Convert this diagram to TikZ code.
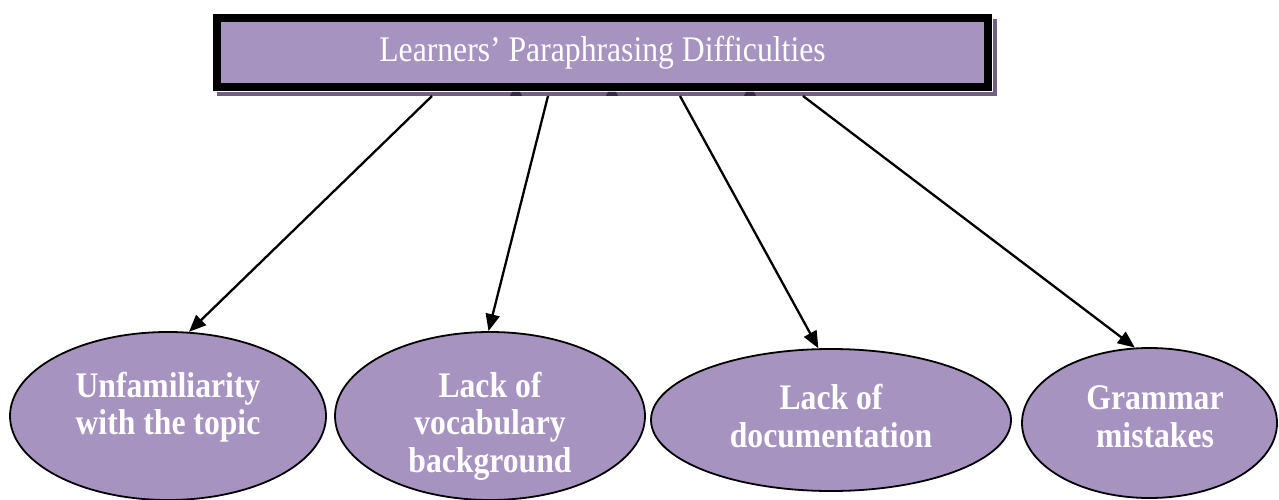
\documentclass[tikz,border=0pt]{standalone}
\usepackage{fontspec}
\setmainfont{Liberation Serif}
\newfontfamily\narrowserif[FakeStretch=0.88]{Liberation Serif}
\usetikzlibrary{shapes.geometric,arrows.meta,calc}

\definecolor{lilac}{RGB}{166,147,191}
\definecolor{boxshadow}{RGB}{112,97,130}
\definecolor{notch}{RGB}{52,42,66}

\tikzset{
  headbox/.style={rectangle, draw=black, line width=8pt, fill=lilac,
    minimum width=771pt, minimum height=69pt, inner sep=0pt},
  cause/.style={ellipse, draw=black, line width=1.8pt, fill=lilac, inner sep=0pt},
  causetext/.style={text=white, align=center,
    font=\narrowserif\bfseries\fontsize{36}{37.5}\selectfont},
  link/.style={draw=black, line width=2.3pt,
    -{Triangle[length=17pt,width=14pt]}}
}

\begin{document}
\begin{tikzpicture}[x=1pt,y=-1pt]
\useasboundingbox (0,0) rectangle (1279,500);

% drop shadow of the heading box, with a thin white gap
\fill[boxshadow] (217,19) rectangle (996.5,96.5);
\draw[white, line width=1.2pt] (212.4,13.4) rectangle (992.6,91.6);

% heading box
\node[headbox] (title) at (602.5,52.5)
  {\textcolor{white}{\narrowserif\fontsize{36}{38}\selectfont Learners’ Paraphrasing Difficulties}};

% small notches under the heading box
\foreach \dx in {-86.5,9.5,147.5} {
  \fill[notch] ($(title.south)+(\dx-4,0.8)$) -- ++(8,0) -- ++(2,4) -- ++(-12,0) -- cycle;
}

% the four difficulties
\node[cause, minimum width=316pt, minimum height=168pt] (e1) at (168,416) {};
\node[cause, minimum width=310pt, minimum height=168pt] (e2) at (490,416) {};
\node[cause, minimum width=360pt, minimum height=142pt] (e3) at (831,420) {};
\node[cause, minimum width=255pt, minimum height=150pt] (e4) at (1149.5,423) {};

\node[causetext] (t1) at (168,407) {Unfamiliarity\\with the topic};
\node[causetext] (t2) at (490,426) {Lack of\\vocabulary\\background};
\node[causetext] (t3) at (831,416) {Lack of\\documentation};
\node[causetext] (t4) at (1155,417) {Grammar\\mistakes};

% connectors
\coordinate (s1) at ($(title.south)+(-170.5,5)$);
\coordinate (s2) at ($(title.south)+(-54.5,5)$);
\coordinate (s3) at ($(title.south)+(77.5,5)$);
\coordinate (s4) at ($(title.south)+(200.5,5)$);

\draw[link] (s1) -- (e1.76);
\draw[link] (s2) -- (e2.91);
\draw[link] (s3) -- (e3.100);
\draw[link] (s4) -- (e4.101);
\end{tikzpicture}
\end{document}
